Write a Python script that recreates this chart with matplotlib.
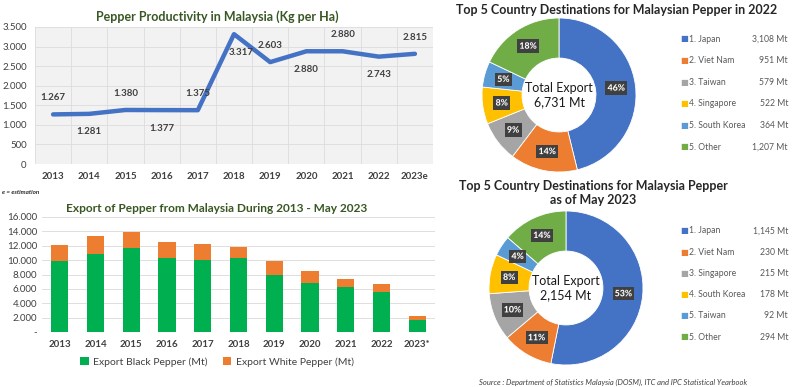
import numpy as np
import matplotlib.pyplot as plt
from matplotlib.ticker import FuncFormatter
import matplotlib.patheffects as pe

plt.rcParams['font.family'] = ['Lato', 'DejaVu Sans']

# ---- data ----
years = ['2013', '2014', '2015', '2016', '2017', '2018', '2019', '2020', '2021', '2022', '2023e']
productivity = [1267, 1281, 1380, 1377, 1375, 3317, 2603, 2880, 2880, 2743, 2815]
label_above = [True, False, True, False, True, False, True, False, True, False, True]

export_years = ['2013', '2014', '2015', '2016', '2017', '2018', '2019', '2020', '2021', '2022', '2023*']
black_pepper = [9880, 10820, 11650, 10300, 10020, 10300, 7880, 6760, 6200, 5500, 1680]
white_pepper = [2200, 2600, 2330, 2240, 2190, 1500, 2000, 1680, 1120, 1210, 510]

dest_2022 = ['1. Japan', '2. Viet Nam', '3. Taiwan', '4. Singapore', '5. South Korea', '5. Other']
vol_2022 = [3108, 951, 579, 522, 364, 1207]
dest_2023 = ['1. Japan', '2. Viet Nam', '3. Singapore', '4. South Korea', '5. Taiwan', '5. Other']
vol_2023 = [1145, 230, 215, 178, 92, 294]

donut_colors = ['#4472C4', '#ED7D31', '#A5A5A5', '#FFC000', '#5B9BD5', '#70AD47']

W, H = 800, 387
fig = plt.figure(figsize=(W / 100, H / 100), dpi=100)


def px_axes(x0, y0, x1, y1):
    # pixel box (top-left origin) -> figure axes
    return fig.add_axes([x0 / W, 1 - y1 / H, (x1 - x0) / W, (y1 - y0) / H])


def dot_thousands(v, pos=None):
    return f"{int(round(v)):,}".replace(',', '.')


# ---- line chart: productivity ----
ax1 = px_axes(35, 27, 433, 164)
ax1.set_facecolor('#f2f2f2')
x = np.arange(len(years))
ax1.plot(x, productivity, color='#4472C4', lw=3.2, solid_capstyle='round')
ax1.set_xlim(-0.5, len(years) - 0.5)
ax1.set_ylim(0, 3500)
ax1.set_yticks(np.arange(0, 3501, 500))
ax1.yaxis.set_major_formatter(FuncFormatter(dot_thousands))
ax1.set_xticks(x)
ax1.set_xticklabels(years)
ax1.set_xticks(np.arange(-0.5, len(years), 1.0), minor=True)
ax1.grid(True, axis='y', which='major', color='#dcdcdc', lw=0.6)
ax1.grid(True, axis='x', which='minor', color='#dcdcdc', lw=0.6)
ax1.set_axisbelow(True)
for s in ax1.spines.values():
    s.set_visible(False)
ax1.tick_params(which='both', length=0, labelsize=7, labelcolor='#404040', pad=6)
for lbl in ax1.get_xticklabels():
    lbl.set_fontweight('bold')
for i, v in enumerate(productivity):
    dy = 12 if label_above[i] else -13
    dx = 5 if i == 5 else 0
    ax1.annotate(dot_thousands(v), (i, v), xytext=(dx, dy), textcoords='offset points',
                 ha='center', va='center', fontsize=7, fontweight='bold', color='#404040')
fig.text(217 / W, 1 - 17 / H, 'Pepper Productivity in Malaysia (Kg per Ha)', ha='center', va='center',
         fontsize=9, fontweight='bold', color='#385723')

# ---- stacked bars: exports ----
ax2 = px_axes(42, 217, 435, 332)
xb = np.arange(len(export_years))
ax2.bar(xb, black_pepper, width=0.48, color='#00B050', label='Export Black Pepper (Mt)', zorder=3)
ax2.bar(xb, white_pepper, width=0.48, bottom=black_pepper, color='#ED7D31',
        label='Export White Pepper (Mt)', zorder=3)
ax2.set_xlim(-0.5, len(export_years) - 0.5)
ax2.set_ylim(0, 16000)
ax2.set_yticks(np.arange(0, 16001, 2000))
ax2.yaxis.set_major_formatter(FuncFormatter(lambda v, p: '-' if v == 0 else dot_thousands(v)))
ax2.set_xticks(xb)
ax2.set_xticklabels(export_years)
ax2.grid(True, axis='y', color='#d9d9d9', lw=0.6)
for s in ax2.spines.values():
    s.set_visible(False)
ax2.tick_params(length=0, labelsize=7, labelcolor='#404040')
ax2.tick_params(axis='x', pad=6)
for lbl in ax2.get_xticklabels():
    lbl.set_fontweight('bold')
ax2.legend(loc='center', bbox_to_anchor=(217 / W, 1 - 362 / H), bbox_transform=fig.transFigure,
           ncol=2, frameon=False, fontsize=7.5, handlelength=0.8, handleheight=0.8,
           columnspacing=1.5, handletextpad=0.4, labelcolor='#404040')
fig.text(217 / W, 1 - 208 / H, 'Export of Pepper from Malaysia During 2013 - May 2023', ha='center',
         va='center', fontsize=8.6, fontweight='bold', color='#385723')
fig.text(2 / W, 1 - 192 / H, 'e = estimation', ha='left', va='center', fontsize=4.5,
         fontweight='bold', style='italic', color='#262626')


# ---- donuts ----
def donut(cx, cy, r, names, vols, total_txt, leg_y):
    ax = px_axes(cx - r, cy - r, cx + r, cy + r)
    wedges, _ = ax.pie(vols, colors=donut_colors, startangle=90, counterclock=False, radius=1,
                       wedgeprops=dict(width=0.52, edgecolor='white', linewidth=0.6))
    tot = sum(vols)
    for w, v in zip(wedges, vols):
        ang = np.deg2rad((w.theta1 + w.theta2) / 2)
        ax.text(0.75 * np.cos(ang), 0.75 * np.sin(ang), f"{round(100 * v / tot)}%", ha='center',
                va='center', fontsize=6.3, fontweight='bold', color='white',
                bbox=dict(boxstyle='square,pad=0.25', fc='#404040', ec='none'),
                path_effects=[pe.withStroke(linewidth=0.5, foreground='#404040')])
    ax.text(0, 0, total_txt, ha='center', va='center', fontsize=9, color='#1a1a1a',
            linespacing=1.25)
    ax.set_xlim(-1, 1)
    ax.set_ylim(-1, 1)
    ax.set_aspect('equal')
    ax.axis('off')
    for i, (n, v) in enumerate(zip(names, vols)):
        yy = 1 - (leg_y[0] + i * (leg_y[1] - leg_y[0]) / 5) / H
        fig.text(684 / W, yy, '\u25A0', ha='center', va='center', fontsize=6, color=donut_colors[i],
                 family='DejaVu Sans')
        fig.text(689 / W, yy, n, ha='left', va='center', fontsize=6.2, color='#595959')
        fig.text(788 / W, yy, f"{v:,} Mt", ha='right', va='center', fontsize=6.2, color='#595959')


donut(559, 95, 77, dest_2022, vol_2022, 'Total Export\n6,731 Mt', (39, 147))
donut(566, 288, 77, dest_2023, vol_2023, 'Total Export\n2,154 Mt', (231, 337))

fig.text(617 / W, 1 - 10 / H, 'Top 5 Country Destinations for Malaysian Pepper in 2022', ha='center',
         va='center', fontsize=9, fontweight='bold', color='#262626')
fig.text(593 / W, 1 - 193 / H, 'Top 5 Country Destinations for Malaysia Pepper\nas of May 2023',
         ha='center', va='center', fontsize=9, fontweight='bold', color='#262626', linespacing=1.15)
fig.text(613 / W, 1 - 382 / H, 'Source : Department of Statistics Malaysia (DOSM), ITC and IPC Statistical Yearbook',
         ha='center', va='center', fontsize=5.5, style='italic', color='#404040')

fig.savefig('out.png', dpi=100)
